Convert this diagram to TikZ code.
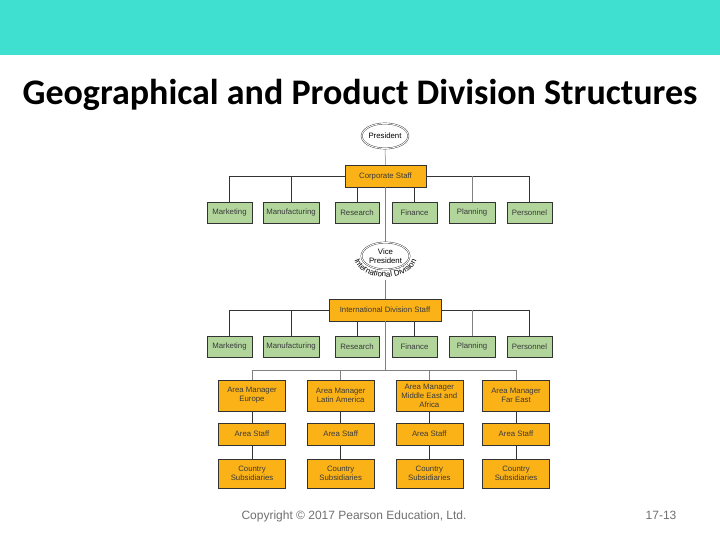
\documentclass[tikz,border=0pt]{standalone}
\usepackage{fontspec}
\setmainfont{Liberation Sans}
\newfontfamily\titlefont{Carlito}
\usetikzlibrary{shapes.geometric,decorations.text}
\definecolor{tealbar}{HTML}{40E0D0}
\definecolor{orangebox}{HTML}{FBB217}
\definecolor{greenbox}{HTML}{B1D59B}
\definecolor{linedark}{HTML}{333333}
\definecolor{txt}{HTML}{3A3A3A}
\definecolor{foot}{HTML}{707070}
\begin{document}
\begin{tikzpicture}[x=1pt,y=1pt,
  box/.style={draw=linedark, line width=0.5pt, inner sep=0pt, font=\fontsize{7.8}{9}\selectfont, text=txt, align=center},
  gbox/.style={box, fill=greenbox, minimum height=21pt},
  obox/.style={box, fill=orangebox},
  conn/.style={draw=linedark, line width=0.9pt},
  thinline/.style={draw=gray, line width=0.5pt},
  oval/.style={ellipse, draw=linedark, double, double distance=0.9pt, line width=0.4pt, inner sep=0pt, font=\fontsize{7.8}{8.8}\selectfont, text=black, align=center}
]
\useasboundingbox (0,0) rectangle (720,-540);
\fill[white] (0,0) rectangle (720,-540);
\fill[tealbar] (0,0) rectangle (720,-55);

\node[font=\titlefont\bfseries\fontsize{36}{42}\selectfont, anchor=base] (title) at (360,-105) {Geographical and Product Division Structures};

% top level
\node[oval, minimum width=45pt, minimum height=25pt] (pres) at (385,-136) {President};
\node[obox, minimum width=81pt, minimum height=22pt] (cs) at (385.5,-176) {Corporate Staff};
\node[gbox, minimum width=45pt] (mkt1) at (229.5,-212.5) {Marketing};
\node[gbox, minimum width=56pt] (mfg1) at (291,-212.5) {Manufacturing};
\node[gbox, minimum width=44pt] (rsc1) at (357,-212.5) {Research};
\node[gbox, minimum width=45pt] (fin1) at (414.5,-212.5) {Finance};
\node[gbox, minimum width=46pt] (pln1) at (472,-212.5) {Planning};
\node[gbox, minimum width=45pt] (per1) at (529.5,-212.5) {Personnel};

% international division
\node[oval, minimum width=48pt, minimum height=27pt] (vp) at (385.5,-256) {Vice\\President};
\path[decorate, decoration={text along path, text={|\fontsize{8}{9}\selectfont|International Division}, text align=center}]
  (385.5,-256) ++(175:32 and 21) arc[start angle=175, end angle=365, x radius=32, y radius=21];
\coordinate (vpb) at (385,-280);
\node[obox, minimum width=112pt, minimum height=22pt] (ids) at (385,-310) {International Division Staff};
\node[gbox, minimum width=45pt] (mkt2) at (229.5,-346.5) {Marketing};
\node[gbox, minimum width=56pt] (mfg2) at (291,-346.5) {Manufacturing};
\node[gbox, minimum width=44pt] (rsc2) at (357,-346.5) {Research};
\node[gbox, minimum width=45pt] (fin2) at (414.5,-346.5) {Finance};
\node[gbox, minimum width=46pt] (pln2) at (472,-346.5) {Planning};
\node[gbox, minimum width=45pt] (per2) at (529.5,-346.5) {Personnel};

% areas
\coordinate (hub) at (385,-370);
\foreach \i/\x/\t in {1/252/{Area Manager\\Europe}, 2/340.7/{Area Manager\\Latin America}, 3/429.3/{Area Manager\\Middle East and\\Africa}, 4/516/{Area Manager\\Far East}}{
  \node[obox, minimum width=67pt, minimum height=31pt] (am\i) at (\x,-395.5) {\t};
  \node[obox, minimum width=67pt, minimum height=22pt] (as\i) at (\x,-434) {Area Staff};
  \node[obox, minimum width=67pt, minimum height=29pt] (cy\i) at (\x,-473.5) {Country\\Subsidiaries};
  \draw[conn, line width=0.7pt] (am\i) -- (as\i);
  \draw[conn, line width=0.7pt] (as\i) -- (cy\i);
  \draw[thinline] (hub) -| (am\i.north);
}

% connectors top
\draw[thinline] (pres) -- (cs);
\draw[thinline] (cs) -- (vp);
\draw[thinline] (vpb) -- (ids);
\draw[thinline] (ids) -- (hub);
\draw[conn] (cs.west) -| (mkt1.north);
\draw[conn] (cs.west) -| (mfg1.north);
\draw[conn, line width=0.7pt] (rsc1.north) -- (rsc1.north |- cs.south);
\draw[conn, line width=0.7pt] (fin1.north) -- (fin1.north |- cs.south);
\draw[conn] (cs.east) -| (per1.north);
\draw[thinline] (pln1.north) -- (pln1.north |- cs.east);
\draw[conn] (ids.west) -| (mkt2.north);
\draw[conn] (ids.west) -| (mfg2.north);
\draw[conn, line width=0.7pt] (rsc2.north) -- (rsc2.north |- ids.south);
\draw[conn, line width=0.7pt] (fin2.north) -- (fin2.north |- ids.south);
\draw[conn] (ids.east) -| (per2.north);
\draw[thinline] (pln2.north) -- (pln2.north |- ids.east);

% footer
\node[font=\fontsize{12}{14}\selectfont, text=foot, anchor=base] (copy) at (354,-519) {Copyright © 2017 Pearson Education, Ltd.};
\node[font=\fontsize{12}{14}\selectfont, text=foot, anchor=base] (page) at (661,-519) {17-13};
\end{tikzpicture}
\end{document}
